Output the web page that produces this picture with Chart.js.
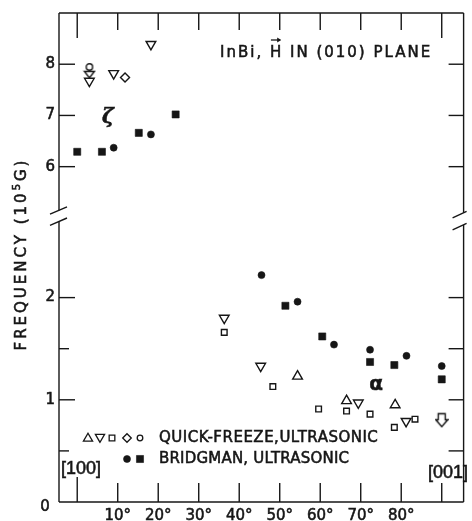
<!DOCTYPE html>
<html>
<head>
<meta charset="utf-8">
<script src="https://cdn.jsdelivr.net/npm/chart.js@4.4.1/dist/chart.umd.min.js"></script>
<style>
  html, body { margin: 0; padding: 0; background: #fff; }
  #wrap { width: 472px; height: 521px; }
</style>
</head>
<body>
<div id="wrap"><canvas id="chart" width="472" height="521"></canvas></div>
<script>
"use strict";

const INK = "#161616";
const FONT = '"DejaVu Sans", sans-serif';

// angle of H measured from [100] towards [001], degrees
const X_TICKS = [0, 10, 20, 30, 40, 50, 60, 70, 80, 90];
const X_LABELS = { 10: "10°", 20: "20°", 30: "30°", 40: "40°", 50: "50°", 60: "60°", 70: "70°", 80: "80°" };
const Y_TICKS_TOP = [6, 7, 8];
const Y_TICKS_BOT = [1, 2];
const Y_MINOR_BOT = [0.5, 1.5];

// zeta branch (upper panel), frequency in 10^5 G
const zetaBridgmanSquares = [{ x: 0, y: 6.29 }, { x: 6.1, y: 6.29 }, { x: 15.2, y: 6.66 }, { x: 24.3, y: 7.02 }];
const zetaBridgmanCircles = [{ x: 9.0, y: 6.37 }, { x: 18.2, y: 6.63 }];
const zetaQuickDown = [{ x: 3.0, y: 7.67 }, { x: 9.0, y: 7.82 }, { x: 18.2, y: 8.39 }];
const zetaQuickDiamonds = [{ x: 11.8, y: 7.74 }];
const zetaQuickCircleLimit = [{ x: 3.0, y: 7.87 }];

// alpha branch (lower panel)
const alphaBridgmanCircles = [
  { x: 45.5, y: 2.22 }, { x: 54.4, y: 1.96 }, { x: 63.4, y: 1.54 },
  { x: 72.3, y: 1.49 }, { x: 81.3, y: 1.43 }, { x: 90, y: 1.33 },
];
const alphaBridgmanSquares = [
  { x: 51.4, y: 1.92 }, { x: 60.5, y: 1.62 }, { x: 72.3, y: 1.37 },
  { x: 78.3, y: 1.34 }, { x: 90, y: 1.20 },
];
const alphaQuickDown = [{ x: 36.3, y: 1.80 }, { x: 45.3, y: 1.33 }, { x: 69.4, y: 0.97 }, { x: 81.2, y: 0.79 }];
const alphaQuickUp = [{ x: 54.4, y: 1.23 }, { x: 66.5, y: 0.99 }, { x: 78.5, y: 0.95 }];
const alphaQuickSquares = [
  { x: 36.3, y: 1.66 }, { x: 48.3, y: 1.13 }, { x: 59.6, y: 0.91 }, { x: 66.5, y: 0.89 },
  { x: 72.3, y: 0.86 }, { x: 78.3, y: 0.73 }, { x: 83.4, y: 0.81 },
];
const alphaQuickSquareLimit = [{ x: 90, y: 0.80 }];

// marker with a hollow arrow pointing down (upper-limit style)
function limitMarker(head) {
  const c = document.createElement("canvas");
  c.width = 14; c.height = 16;
  const g = c.getContext("2d");
  g.strokeStyle = INK; g.fillStyle = "#fff"; g.lineWidth = 1.4;
  g.beginPath();
  if (head === "circle") {
    g.arc(7, 4, 3.2, 0, Math.PI * 2);
    g.fill(); g.stroke();
    g.beginPath();
    g.moveTo(2, 8.5); g.lineTo(12, 8.5); g.lineTo(7, 15); g.closePath();
  } else {
    g.moveTo(3.5, 1.5); g.lineTo(10.5, 1.5); g.lineTo(10.5, 7.5); g.lineTo(13, 7.5);
    g.lineTo(7, 14.5); g.lineTo(1, 7.5); g.lineTo(3.5, 7.5); g.closePath();
  }
  g.fill(); g.stroke();
  return c;
}

function filled(data, style, r, axis) {
  return { data, yAxisID: axis, pointStyle: style, pointRadius: r, pointBackgroundColor: INK,
    pointBorderColor: INK, pointBorderWidth: 0.6, showLine: false };
}
function open(data, style, r, axis, rot) {
  return { data, yAxisID: axis, pointStyle: style, pointRadius: r, pointRotation: rot || 0,
    pointBackgroundColor: "#fff", pointBorderColor: INK, pointBorderWidth: 1.4, showLine: false };
}

const datasets = [
  filled(zetaBridgmanSquares, "rect", 5, "yTop"),
  filled(zetaBridgmanCircles, "circle", 3.5, "yTop"),
  open(zetaQuickDown, "triangle", 5.6, "yTop", 180),
  open(zetaQuickDiamonds, "rectRot", 4.5, "yTop"),
  open(zetaQuickCircleLimit, limitMarker("circle"), 7, "yTop"),
  filled(alphaBridgmanCircles, "circle", 3.5, "yBot"),
  filled(alphaBridgmanSquares, "rect", 5, "yBot"),
  open(alphaQuickDown, "triangle", 5.6, "yBot", 180),
  open(alphaQuickUp, "triangle", 5.6, "yBot"),
  open(alphaQuickSquares, "rect", 4, "yBot"),
  open(alphaQuickSquareLimit, limitMarker("rect"), 7, "yBot"),
];

// fill plus a thin stroke, to get the heavier lettering of the original
function text(ctx, str, x, y, font, align, spacing) {
  ctx.font = font;
  ctx.textAlign = align || "left";
  ctx.letterSpacing = (spacing || 0) + "px";
  ctx.lineWidth = 0.55;
  ctx.fillText(str, x, y);
  ctx.strokeText(str, x, y);
  const w = ctx.measureText(str).width;
  ctx.letterSpacing = "0px";
  return w;
}

const framePlugin = {
  id: "frame",
  afterDraw(chart) {
    const { ctx, chartArea: a, scales: { x, yTop, yBot } } = chart;
    const brk = yTop.bottom;
    const line = (x0, y0, x1, y1) => { ctx.beginPath(); ctx.moveTo(x0, y0); ctx.lineTo(x1, y1); ctx.stroke(); };
    ctx.save();
    ctx.strokeStyle = INK; ctx.fillStyle = INK; ctx.lineWidth = 1.4;

    // frame with the axis break on both sides
    line(a.left, a.top, a.right, a.top);
    line(a.left, a.bottom, a.right, a.bottom);
    line(a.left, a.top, a.left, brk - 7.5);
    line(a.left, brk + 3.7, a.left, a.bottom);
    line(a.right, a.top, a.right, brk - 5);
    line(a.right, brk + 7, a.right, a.bottom);
    for (const c of [brk - 7.5, brk + 3.7]) line(a.left - 9, c + 3.8, a.left + 8, c - 3.6);
    for (const c of [brk - 5, brk + 7]) line(a.right - 11, c + 5, a.right + 3, c - 1.4);

    // inward ticks
    for (const v of X_TICKS) {
      const px = x.getPixelForValue(v);
      line(px, a.top, px, a.top + (v === 0 || v === 90 ? 25 : 17));
      line(px, a.bottom, px, a.bottom - (v === 0 ? 25 : 19));
    }
    for (const v of Y_TICKS_TOP) {
      const py = yTop.getPixelForValue(v);
      line(a.left, py, a.left + 16, py);
      line(a.right, py, a.right - 15, py);
    }
    for (const v of Y_TICKS_BOT) {
      const py = yBot.getPixelForValue(v);
      line(a.left, py, a.left + 16, py);
      line(a.right, py, a.right - 15, py);
    }
    for (const v of Y_MINOR_BOT) {
      const py = yBot.getPixelForValue(v);
      line(a.left, py, a.left + 10, py);
      line(a.right, py, a.right - 15, py);
    }

    // legend symbols
    const drawPoint = Chart.helpers.drawPoint;
    const sym = (style, r, px, py, fill, rot) => {
      ctx.fillStyle = fill ? INK : "#fff";
      ctx.lineWidth = fill ? 0.6 : 1.3;
      drawPoint(ctx, { pointStyle: style, radius: r, rotation: rot || 0, borderWidth: ctx.lineWidth }, px, py);
    };
    sym("triangle", 5.3, 88, 438.5, false);
    sym("triangle", 5.3, 100, 437, false, 180);
    sym("rect", 4, 112, 438, false);
    sym("rectRot", 4.3, 127, 438, false);
    sym("circle", 2.8, 140, 438, false);
    sym("circle", 3.5, 127, 459, true);
    sym("rect", 5, 140, 459, true);

    // texts
    ctx.fillStyle = INK;
    ctx.textBaseline = "middle";
    text(ctx, "QUICK-FREEZE,ULTRASONIC", 159, 438, "15px " + FONT, "left", 0.5);
    text(ctx, "BRIDGMAN, ULTRASONIC", 159, 459, "15px " + FONT, "left", 0.2);
    text(ctx, "[100]", 81, 469, '18px "Liberation Sans", sans-serif', "center");
    text(ctx, "[001]", 448, 473, '18px "Liberation Sans", sans-serif', "center");
    text(ctx, "ζ", 108, 118, 'italic bold 20px "DejaVu Serif", serif', "center");
    text(ctx, "α", 376, 385, 'bold 20px "DejaVu Sans", sans-serif', "center");
    text(ctx, "0", 45, 507, "15px " + FONT, "center");

    // title with vector arrow over H
    ctx.textBaseline = "alphabetic";
    let tx = 220;
    tx += text(ctx, "InBi, ", tx, 57, "15px " + FONT, "left", 2);
    const hw = text(ctx, "H", tx, 57, "15px " + FONT, "left", 2);
    ctx.lineWidth = 1.3;
    line(tx + 1, 40, tx + hw - 3, 40);
    ctx.beginPath(); ctx.moveTo(tx + hw - 2, 40); ctx.lineTo(tx + hw - 6, 37.5); ctx.lineTo(tx + hw - 6, 42.5); ctx.closePath(); ctx.fill();
    tx += hw;
    text(ctx, " IN (010) PLANE", tx, 57, "15px " + FONT, "left", 2);

    // rotated axis title
    ctx.save();
    ctx.translate(22, 254);
    ctx.rotate(-Math.PI / 2);
    ctx.textBaseline = "middle";
    const main = "FREQUENCY (10";
    ctx.font = "15px " + FONT; ctx.letterSpacing = "3px";
    const w1 = ctx.measureText(main).width;
    ctx.font = "10px " + FONT;
    const w2 = ctx.measureText("5").width;
    ctx.font = "15px " + FONT;
    const w3 = ctx.measureText("G)").width;
    let sx = -(w1 + w2 + w3) / 2;
    sx += text(ctx, main, sx, 0, "15px " + FONT, "left", 3);
    sx += text(ctx, "5", sx, -5, "10px " + FONT, "left", 3);
    text(ctx, "G)", sx, 0, "15px " + FONT, "left", 3);
    ctx.restore();

    ctx.restore();
  },
};

const tickFont = { family: FONT, size: 15 };
const tickText = { color: INK, font: tickFont, textStrokeColor: INK, textStrokeWidth: 0.55 };

new Chart(document.getElementById("chart"), {
  type: "scatter",
  data: { datasets },
  options: {
    responsive: false,
    animation: false,
    devicePixelRatio: 1,
    layout: { padding: { top: 13, right: 1, left: 0, bottom: 0 } },
    plugins: { legend: { display: false }, tooltip: { enabled: false } },
    scales: {
      x: {
        type: "linear", position: "bottom", min: -4.5, max: 95.4,
        afterBuildTicks: s => { s.ticks = X_TICKS.map(v => ({ value: v })); },
        afterFit: s => { s.height = 19; },
        grid: { display: false, drawTicks: false }, border: { display: false },
        ticks: { ...tickText, padding: 5, autoSkip: false, maxRotation: 0,
          callback: v => X_LABELS[v] || "" },
      },
      yTop: {
        type: "linear", position: "left", stack: "freq", stackWeight: 204.8, weight: 1,
        min: 5, max: 9,
        afterBuildTicks: s => { s.ticks = Y_TICKS_TOP.map(v => ({ value: v })); },
        afterFit: s => { s.width = 59; },
        grid: { display: false, drawTicks: false }, border: { display: false },
        ticks: { ...tickText, padding: 4, callback: v => String(v) },
      },
      yBot: {
        type: "linear", position: "left", stack: "freq", stackWeight: 284, weight: 0,
        min: 0, max: 2.78,
        afterBuildTicks: s => { s.ticks = Y_TICKS_BOT.map(v => ({ value: v })); },
        afterFit: s => { s.width = 59; },
        grid: { display: false, drawTicks: false }, border: { display: false },
        ticks: { ...tickText, padding: 4, callback: v => String(v) },
      },
    },
  },
  plugins: [framePlugin],
});
</script>
</body>
</html>
